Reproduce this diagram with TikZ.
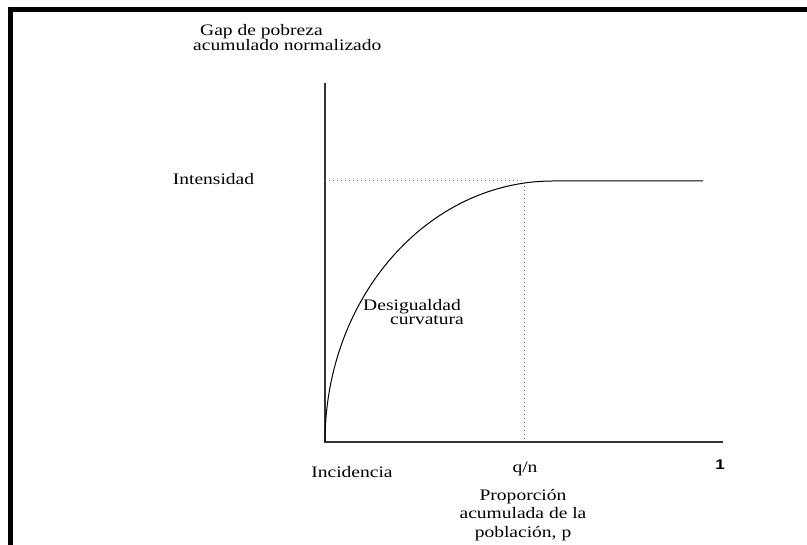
\documentclass[tikz,border=0pt]{standalone}
\usepackage{fontspec}
\setmainfont{Liberation Serif}
\setsansfont{Liberation Sans}
\usepackage{tikz}
\usetikzlibrary{positioning}

\begin{document}
\begin{tikzpicture}[
  x=1pt, y=1pt,
  lbl/.style={font=\fontsize{16}{14}\selectfont, xscale=1.22, inner sep=0pt},
  axis/.style={draw=black!80, line width=1.3pt},
  guide/.style={draw=black!55, line width=1pt, dash pattern=on 1.3pt off 2.7pt},
  curve/.style={draw=black, line width=1pt}
]
\useasboundingbox (0,0) rectangle (807,545);
\draw[line width=5pt] (10.5,0) -- (10.5,535.5) -- (807,535.5);

% axes and marks
\coordinate (origin) at (325,103);
\coordinate (ytop) at (325,462);
\coordinate (xend) at (723,103);
\coordinate (hq) at (325,364);
\coordinate (qn) at (524,364);
\coordinate (qbase) at (524,103);
\coordinate (flat) at (703,364);
\draw[axis] (ytop) -- (origin) -- (xend);
\draw[guide] (hq) -- (qn) -- (qbase);
\draw[curve] (origin) arc[start angle=180, end angle=90, x radius=228pt, y radius=261pt] -- (flat);

% labels
\node[lbl, align=left, anchor=north west] (ylab) at (193,521) {\hspace*{5.7pt}Gap de pobreza\\acumulado normalizado};
\node[lbl, anchor=base] (int) at (213.5,360) {Intensidad};
\node[lbl, font=\fontsize{16}{14}\selectfont, align=left, anchor=north west] (des) at (363,245.5) {Desigualdad\\\hspace*{22pt}curvatura};
\node[lbl, anchor=base] (inc) at (352,67) {Incidencia};
\node[lbl, anchor=base] (qnl) at (525,72) {q/n};
\node[lbl, font=\fontspec{Liberation Sans}\bfseries\fontsize{14}{14}\selectfont, anchor=base, xscale=1] (one) at (720,75) {1};
\node[lbl, font=\fontsize{16}{18.5}\selectfont, align=center, anchor=north] (xlab) at (523,56) {Proporción\\acumulada de la\\población, p};
\end{tikzpicture}
\end{document}
